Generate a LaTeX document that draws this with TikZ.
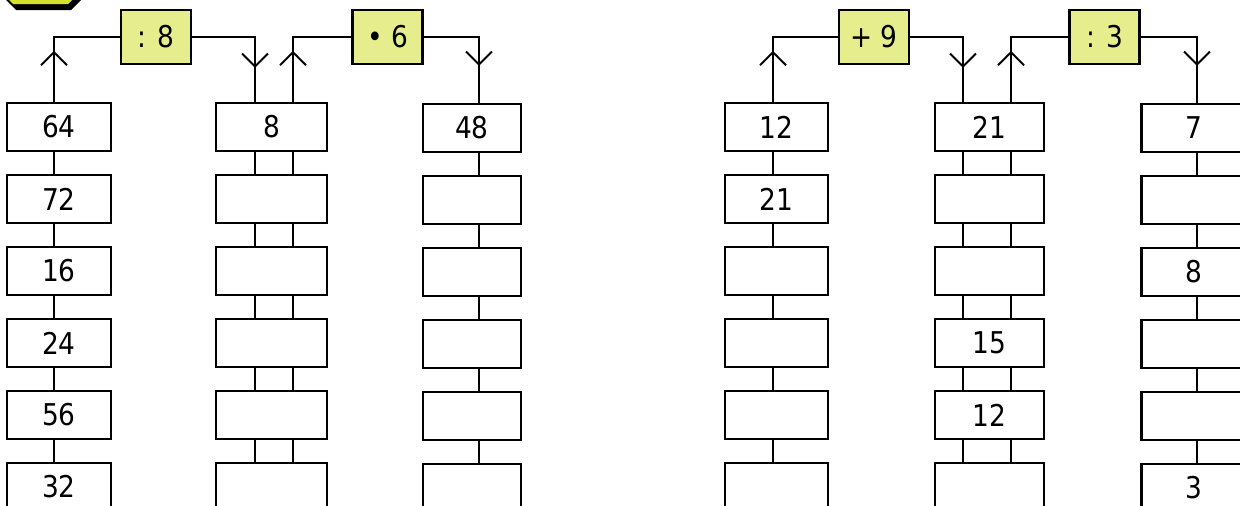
\documentclass[tikz,border=0pt]{standalone}
\usepackage{fontspec}
\setmainfont{DejaVu Sans}[FakeStretch=0.88]
\usetikzlibrary{arrows.meta,decorations.markings}
\definecolor{opfill}{RGB}{230,237,140}
\definecolor{badge}{RGB}{212,226,42}
\begin{document}
\begin{tikzpicture}[x=1pt,y=-1pt,
  numbox/.style={draw, line width=2.2pt, minimum height=48pt, inner sep=0pt, fill=white, font=\fontsize{30}{32}\selectfont},
  opbox/.style={draw, line width=2.2pt, fill=opfill, minimum width=70pt, minimum height=54pt, inner sep=0pt, font=\fontsize{30}{32}\selectfont},
  link/.style={line width=1.9pt},
  barb/.style={postaction={decorate}, decoration={markings, mark=at position #1 with {\arrow{Straight Barb[length=13pt,width=26pt,line width=1.9pt]}}}},
]
\useasboundingbox (0,0) rectangle (1240,506);
\clip (0,0) rectangle (1240,506);

% badge (cut off at the top)
\fill[black] (16,10) -- (71,10) -- (83,-2) -- (71,-14) -- (16,-14) -- (4,-2) -- cycle;
\fill[badge] (13,4) -- (68,4) -- (80,-8) -- (68,-20) -- (13,-20) -- (1,-8) -- cycle;

% line positions
\coordinate (Ax) at (54,0);
\coordinate (Bx1) at (255,0);
\coordinate (Bx2) at (293,0);
\coordinate (Cx) at (479,0);
\coordinate (Dx) at (773,0);
\coordinate (Ex1) at (963,0);
\coordinate (Ex2) at (1011,0);
\coordinate (Fx) at (1197,0);

% boxes
\foreach \v [count=\i] in {64,72,16,24,56,32}
  \node[numbox, minimum width=104pt] (A\i) at (59,{127+72*(\i-1)}) {\v};
\foreach \v [count=\i] in {8,{},{},{},{},{}}
  \node[numbox, minimum width=111pt] (B\i) at (271.5,{127+72*(\i-1)}) {\v};
\foreach \v [count=\i] in {48,{},{},{},{},{}}
  \node[numbox, minimum width=98pt] (C\i) at (472,{128+72*(\i-1)}) {\v};
\foreach \v [count=\i] in {12,21,{},{},{},{}}
  \node[numbox, minimum width=103pt] (D\i) at (776.5,{127+72*(\i-1)}) {\v};
\foreach \v [count=\i] in {21,{},{},15,12,{}}
  \node[numbox, minimum width=109pt] (E\i) at (989.5,{127+72*(\i-1)}) {\v};
\foreach \v [count=\i] in {7,{},8,{},{},3}
  \node[numbox, minimum width=104pt] (F\i) at (1193.5,{128+72*(\i-1)}) {\v};

% operator boxes
\node[opbox] (op1) at (156,37) {: 8};
\node[opbox] (op2) at (387.5,37) {• 6};
\node[opbox] (op3) at (874,37) {+ 9};
\node[opbox] (op4) at (1104.5,37) {: 3};

% vertical links between boxes
\foreach \i [evaluate=\i as \j using int(\i+1)] in {1,...,5} {
  \draw[link] (A\i.south -| Ax) -- (A\j.north -| Ax);
  \draw[link] (B\i.south -| Bx1) -- (B\j.north -| Bx1);
  \draw[link] (B\i.south -| Bx2) -- (B\j.north -| Bx2);
  \draw[link] (C\i.south -| Cx) -- (C\j.north -| Cx);
  \draw[link] (D\i.south -| Dx) -- (D\j.north -| Dx);
  \draw[link] (E\i.south -| Ex1) -- (E\j.north -| Ex1);
  \draw[link] (E\i.south -| Ex2) -- (E\j.north -| Ex2);
  \draw[link] (F\i.south -| Fx) -- (F\j.north -| Fx);
}

% operator connectors
\draw[link, barb=51pt] (A1.north -| Ax) |- (op1.west);
\draw[link, barb=-34pt] (op1.east) -| (B1.north -| Bx1);
\draw[link, barb=51pt] (B1.north -| Bx2) |- (op2.west);
\draw[link, barb=-37pt] (op2.east) -| (C1.north -| Cx);
\draw[link, barb=51pt] (D1.north -| Dx) |- (op3.west);
\draw[link, barb=-34pt] (op3.east) -| (E1.north -| Ex1);
\draw[link, barb=51pt] (E1.north -| Ex2) |- (op4.west);
\draw[link, barb=-37pt] (op4.east) -| (F1.north -| Fx);
\end{tikzpicture}
\end{document}
